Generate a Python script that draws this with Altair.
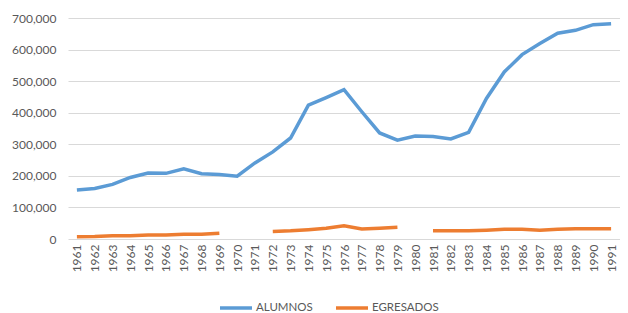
import altair as alt
import pandas as pd

years = list(range(1961, 1992))
alumnos = [155000, 160000, 173000, 195000, 209000, 208000, 222000, 207000, 204000, 199000,
           241000, 276000, 320000, 424000, 448000, 473000, 403000, 336000, 313000, 326000,
           325000, 317000, 338000, 445000, 529000, 584000, 619000, 652000, 661000, 679000, 682000]
egresados = [7000, 8000, 10500, 10500, 12600, 12600, 14700, 14700, 18000, None,
             None, 24000, 26000, 29500, 34000, 42000, 32000, 34000, 37000, None,
             26000, 26000, 26000, 28000, 30500, 30500, 28000, 30500, 32700, 32700, 32700]
series_names = ["ALUMNOS", "EGRESADOS"]
colors = ["#5B9BD5", "#ED7D31"]

rows = []
for y, a, e in zip(years, alumnos, egresados):
    rows.append({"year": str(y), "serie": series_names[0], "value": a})
    rows.append({"year": str(y), "serie": series_names[1], "value": e})
df = pd.DataFrame(rows)

FONT = "Lato"
GRAY = "#595959"

chart = alt.Chart(df).mark_line(strokeWidth=3.5, invalid="break-paths-show-domains").encode(
    x=alt.X("year:O", title=None, sort=[str(y) for y in years],
            scale=alt.Scale(paddingOuter=0.5),
            axis=alt.Axis(labelAngle=-90, labelFont=FONT, labelFontSize=12, labelColor=GRAY,
                          ticks=False, domain=False, labelPadding=5, grid=False)),
    y=alt.Y("value:Q", title=None,
            scale=alt.Scale(domain=[0, 700000], nice=False),
            axis=alt.Axis(values=[0, 100000, 200000, 300000, 400000, 500000, 600000, 700000],
                          format=",.0f", labelFont=FONT, labelFontSize=12, labelColor=GRAY,
                          ticks=False, domain=False, labelPadding=12,
                          gridColor="#D9D9D9", gridWidth=1)),
    color=alt.Color("serie:N", title=None,
                    scale=alt.Scale(domain=series_names, range=colors),
                    legend=alt.Legend(orient="none", legendX=150, legendY=272, direction="horizontal",
                                      symbolType="stroke", symbolSize=1024, symbolStrokeWidth=3.5,
                                      labelFont=FONT, labelFontSize=11.5, labelColor=GRAY,
                                      columnPadding=16, labelOffset=2)),
).properties(
    width=552, height=221,
    autosize=alt.AutoSizeParams(type="none"),
    padding={"left": 60, "top": 10, "right": 0, "bottom": 74},
).configure_view(stroke=None)

chart.save("out.html", embed_options={"renderer": "svg", "actions": False})
